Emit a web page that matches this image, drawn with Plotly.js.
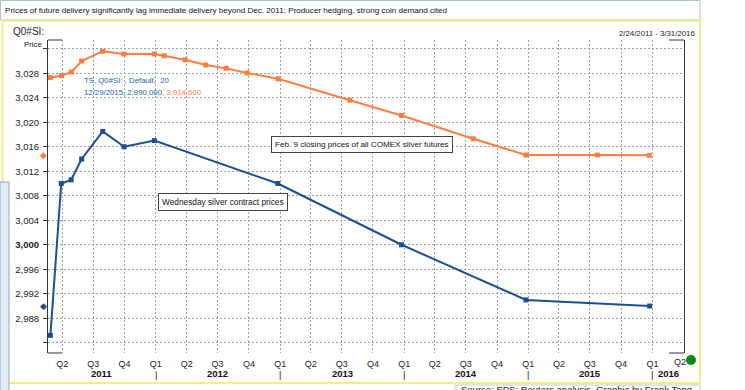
<!DOCTYPE html>
<html><head><meta charset="utf-8">
<script src="https://cdn.plot.ly/plotly-3.0.1.min.js"></script>
<style>body{margin:0;background:#fff}#c{width:745px;height:390px}</style>
</head><body><div id="c"></div>
<script>
const blueDates = ['2011-02-25','2011-03-29','2011-04-27','2011-05-28','2011-07-29','2011-09-30','2011-12-28','2012-12-25','2013-12-24','2014-12-25','2015-12-24'];
const blueValues = [2985.2,3010.0,3010.6,3014.0,3018.5,3016.0,3017.0,3010.0,3000.0,2991.0,2990.0];
const orangeDates = ['2011-02-25','2011-03-30','2011-04-28','2011-05-28','2011-07-29','2011-09-29','2011-12-28','2012-01-26','2012-03-27','2012-05-27','2012-07-26','2012-09-26','2012-12-26','2013-07-25','2013-12-24','2014-07-23','2014-12-25','2015-07-23','2015-12-23'];
const orangeValues = [3027.3,3027.6,3028.2,3030.0,3031.6,3031.15,3031.15,3030.85,3030.2,3029.35,3028.8,3028.05,3027.1,3023.6,3021.1,3017.3,3014.65,3014.65,3014.6];
const yTickVals = [2984,2988,2992,2996,3000,3004,3008,3012,3016,3020,3024,3028,3032];
const yTickText = ['','2,988','2,992','2,996','<b>3,000</b>','3,004','3,008','3,012','3,016','3,020','3,024','3,028',''];
const xTickVals = ['2011-04-01','2011-07-01','2011-10-01','2012-01-01','2012-04-01','2012-07-01','2012-10-01','2013-01-01','2013-04-01','2013-07-01','2013-10-01','2014-01-01','2014-04-01','2014-07-01','2014-10-01','2015-01-01','2015-04-01','2015-07-01','2015-10-01','2016-01-01','2016-04-01'];
const xTickText = ['Q2','Q3','Q4','Q1','Q2','Q3','Q4','Q1','Q2','Q3','Q4','Q1','Q2','Q3','Q4','Q1','Q2','Q3','Q4','Q1','Q2'];
const years = [2011,2012,2013,2014,2015,2016];
const titleText = 'Prices of future delivery significantly lag immediate delivery beyond Dec. 2011; Producer hedging, strong coin demand cited';

const W=745,H=390,L=48,R=61,T=40,B=37;
const pw=W-L-R, ph=H-T-B;
const px=x=>(x-L)/pw, py=y=>(H-B-y)/ph;
const FONT='"Liberation Sans",Arial,sans-serif';
const ORANGE='#ff7d3c', BLUE='#1b4f92';
const xRange=['2011-02-18','2016-04-03'];

const fmt=v=>v.toLocaleString('en-US',{minimumFractionDigits:3,maximumFractionDigits:3});
const lastD=blueDates[blueDates.length-1].split('-');

const traces=[
 {x:orangeDates,y:orangeValues,type:'scatter',mode:'lines+markers',line:{color:ORANGE,width:2},marker:{symbol:'square',size:5,color:ORANGE},hoverinfo:'skip'},
 {x:blueDates,y:blueValues,type:'scatter',mode:'lines+markers',line:{color:BLUE,width:2},marker:{symbol:'square',size:5,color:BLUE},hoverinfo:'skip'}
];

// last x tick label drawn separately (shifted left of the green dot)
const xTickTextShown = xTickText.map((t,i)=> i===xTickText.length-1 ? '' : t);

const ann=[];
const a=(o)=>ann.push(Object.assign({showarrow:false,font:{family:FONT,size:10,color:'#222'}},o));
a({xref:'paper',yref:'paper',x:px(11),y:py(32),xanchor:'left',yanchor:'middle',text:'Q0#SI:',font:{family:FONT,size:10,color:'#222'}});
a({xref:'paper',yref:'paper',x:px(697),y:py(33),xanchor:'right',yanchor:'middle',text:'2/24/2011 - 3/31/2016',font:{family:FONT,size:7.8,color:'#222'}});
a({xref:'paper',yref:'paper',x:px(44),y:py(45),xanchor:'right',yanchor:'middle',text:'Price',font:{family:FONT,size:7.8,color:'#222'}});
a({xref:'paper',yref:'paper',x:px(82),y:py(80),xanchor:'left',yanchor:'middle',text:'TS, Q0#SI: , Default,  20',font:{family:FONT,size:7.8,color:'#2a5fa8'}});
a({xref:'paper',yref:'paper',x:px(82),y:py(92),xanchor:'left',yanchor:'middle',
  text:`${+lastD[1]}/29/${lastD[0]}, ${fmt(blueValues[blueValues.length-1])}, <span style="color:${ORANGE}">${fmt(orangeValues[orangeValues.length-1])}</span>`,
  font:{family:FONT,size:7.8,color:'#2a5fa8'}});
a({xref:'paper',yref:'paper',x:px(271),y:py(144.5),xanchor:'left',yanchor:'middle',text:'Feb. 9 closing prices of all COMEX silver futures',bgcolor:'#fff',bordercolor:'#444',borderwidth:1,borderpad:3,font:{family:FONT,size:8.1,color:'#111'}});
a({xref:'paper',yref:'paper',x:px(158),y:py(201.5),xanchor:'left',yanchor:'middle',text:'Wednesday silver contract prices',bgcolor:'#fff',bordercolor:'#444',borderwidth:1,borderpad:3,font:{family:FONT,size:8.3,color:'#111'}});
// last value diamonds on left axis
a({xref:'paper',yref:'y',x:px(43),y:blueValues[blueValues.length-1],xanchor:'center',yanchor:'middle',text:'◆',font:{family:'DejaVu Sans',size:9,color:BLUE}});
a({xref:'paper',yref:'y',x:px(43),y:orangeValues[orangeValues.length-1],xanchor:'center',yanchor:'middle',text:'◆',font:{family:'DejaVu Sans',size:9,color:ORANGE}});
// year labels and separators
const r0=new Date(xRange[0]).getTime(), r1=new Date(xRange[1]).getTime();
years.forEach(yr=>{
  const s=Math.max(new Date(yr+'-01-01').getTime(),r0), e=Math.min(new Date((yr+1)+'-01-01').getTime(),r1);
  const mid=new Date((s+e)/2).toISOString().slice(0,10);
  a({xref:'x',yref:'paper',x:mid,y:py(373),xanchor:'center',yanchor:'middle',text:'<b>'+yr+'</b>',font:{family:FONT,size:9.5,color:'#111'}});
  if(yr>2011) a({xref:'x',yref:'paper',x:yr+'-01-01',y:py(374.5),xanchor:'center',yanchor:'middle',text:'|',font:{family:FONT,size:9,color:'#111'}});
});
a({xref:'paper',yref:'paper',x:px(680),y:py(362),xanchor:'center',yanchor:'middle',text:xTickText[xTickText.length-1],font:{family:FONT,size:9,color:'#222'}});
a({xref:'paper',yref:'paper',x:px(459),y:py(382),xanchor:'left',yanchor:'top',text:'Source: EPS; Reuters analysis. Graphic by Frank Tang',font:{family:FONT,size:9.5,color:'#222'}});

const shapes=[
 {type:'rect',xref:'paper',yref:'paper',x0:px(0.5),x1:px(700),y0:py(0.5),y1:py(20),line:{color:'#a9c2de',width:1},layer:'below'},
 {type:'rect',xref:'paper',yref:'paper',x0:px(2.5),x1:px(700),y0:py(21),y1:py(383),line:{color:'#f2ee86',width:2},layer:'below'},
 {type:'rect',xref:'paper',yref:'paper',x0:px(455),x1:px(700),y0:py(385),y1:py(395),line:{color:'#c8c8c8',width:1},layer:'below'},
 {type:'rect',xref:'paper',yref:'paper',x0:px(0),x1:px(9),y0:py(182),y1:py(392),line:{color:'#8aa6d0',width:1},fillcolor:'#e3ebf6',layer:'below'},
 {type:'line',xref:'paper',yref:'paper',x0:0,x1:px(62),y0:1,y1:1,line:{color:'#333',width:1}},
 {type:'line',xref:'paper',yref:'paper',x0:0,x1:px(62),y0:0,y1:0,line:{color:'#333',width:1}},
 {type:'line',xref:'paper',yref:'paper',x0:px(669),x1:1,y0:1,y1:1,line:{color:'#333',width:1}},
 {type:'line',xref:'paper',yref:'paper',x0:px(669),x1:1,y0:0,y1:0,line:{color:'#333',width:1}},
 {type:'circle',xref:'paper',yref:'paper',xsizemode:'pixel',ysizemode:'pixel',xanchor:px(691),yanchor:py(360),x0:-5,x1:5,y0:-5,y1:5,fillcolor:'#0b8a17',line:{width:0}}
];

const layout={
 width:W,height:H,margin:{l:L,r:R,t:T,b:B,pad:0},
 paper_bgcolor:'#fff',plot_bgcolor:'#fff',showlegend:false,
 title:{text:titleText,x:5/W,xanchor:'left',xref:'container',y:1-10/H,yanchor:'middle',yref:'container',font:{family:FONT,size:8.1,color:'#111'}},
 xaxis:{type:'date',range:xRange,tickmode:'array',tickvals:xTickVals,ticktext:xTickTextShown,ticks:'',showline:false,zeroline:false,
   showgrid:true,gridcolor:'#a0a0ae',griddash:'2px,2px',gridwidth:1,tickfont:{family:FONT,size:9,color:'#222'},ticklabelstandoff:4},
 yaxis:{range:[2982.33,3033.43],tickmode:'array',tickvals:yTickVals,ticktext:yTickText,ticks:'outside',ticklen:4,tickcolor:'#333',
   showline:true,mirror:true,linecolor:'#333',linewidth:1,zeroline:false,showgrid:true,gridcolor:'#a0a0ae',griddash:'2px,2px',gridwidth:1,
   tickfont:{family:FONT,size:9.5,color:'#222'},ticklabelstandoff:2},
 annotations:ann,shapes:shapes
};
Plotly.newPlot('c',traces,layout,{staticPlot:true,displayModeBar:false});
</script></body></html>
